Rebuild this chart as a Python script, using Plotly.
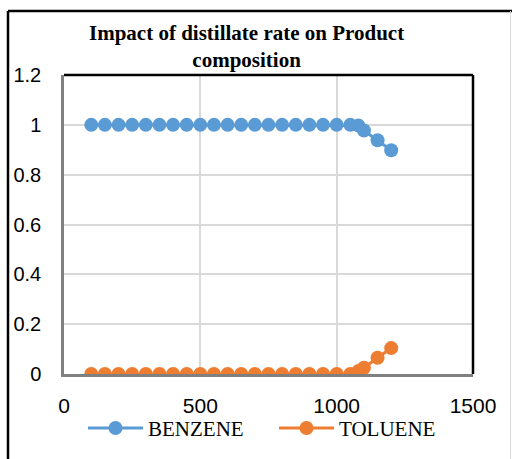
import plotly.graph_objects as go

distillate_rate = [100, 150, 200, 250, 300, 350, 400, 450, 500, 550, 600, 650, 700, 750,
                   800, 850, 900, 950, 1000, 1050, 1080, 1100, 1150, 1200]
benzene = [1.0] * 20 + [0.997, 0.977, 0.938, 0.898]
toluene = [0.0] * 20 + [0.012, 0.025, 0.065, 0.104]

x_ticks = [0, 500, 1000, 1500]
y_ticks = [0, 0.2, 0.4, 0.6, 0.8, 1.0, 1.2]
y_tick_labels = ["0", "0.2", "0.4", "0.6", "0.8", "1", "1.2"]

BLUE = "#5B9BD5"
ORANGE = "#ED7D31"

fig = go.Figure()
fig.add_trace(go.Scatter(x=distillate_rate, y=benzene, name="BENZENE", mode="lines+markers",
                         line=dict(color=BLUE, width=3), marker=dict(color=BLUE, size=14)))
fig.add_trace(go.Scatter(x=distillate_rate, y=toluene, name="TOLUENE", mode="lines+markers",
                         line=dict(color=ORANGE, width=3), marker=dict(color=ORANGE, size=14)))

L, R, T, B = 64, 39, 75, 84.5
W, H = 512, 459
pw, ph = W - L - R, H - T - B

def px(xp):
    return (xp - L) / pw

def py(yp):
    return (H - B - yp) / ph

shapes = [
    dict(type="line", xref="paper", yref="paper", x0=px(8), x1=px(512), y0=py(11), y1=py(11),
         line=dict(color="black", width=2.5), layer="below"),
    dict(type="line", xref="paper", yref="paper", x0=px(8), x1=px(8), y0=py(11), y1=py(470),
         line=dict(color="black", width=2.5), layer="below"),
    dict(type="line", xref="paper", yref="paper", x0=px(510.5), x1=px(510.5), y0=py(11), y1=py(470),
         line=dict(color="#D9D9D9", width=1), layer="below"),
    dict(type="line", xref="paper", yref="paper", x0=0, x1=1, y0=1, y1=1,
         line=dict(color="black", width=2.5)),
    dict(type="line", xref="paper", yref="paper", x0=1, x1=1, y0=0, y1=1,
         line=dict(color="black", width=2.5)),
]

fig.update_layout(
    width=W, height=H,
    margin=dict(l=L, r=R, t=T, b=B, autoexpand=False),
    paper_bgcolor="white", plot_bgcolor="white",
    annotations=[dict(text="<b>Impact of distillate rate on Product<br>composition</b>",
                      font=dict(family="Liberation Serif", size=21, color="black"),
                      xref="paper", yref="paper", x=px(246), y=py(46),
                      xanchor="center", yanchor="middle", showarrow=False, align="center")],
    xaxis=dict(range=[0, 1500], tickvals=x_ticks, ticktext=[str(v) for v in x_ticks],
               showgrid=True, gridcolor="#D9D9D9", gridwidth=1.5,
               showline=True, linecolor="#808080", linewidth=2.5,
               zeroline=False, ticks="outside", ticklen=11, tickcolor="rgba(0,0,0,0)",
               tickfont=dict(family="Liberation Sans", size=21, color="black")),
    yaxis=dict(range=[0, 1.2], tickvals=y_ticks, ticktext=y_tick_labels,
               showgrid=True, gridcolor="#D9D9D9", gridwidth=1.5,
               showline=True, linecolor="#808080", linewidth=2.5,
               zeroline=False, ticks="outside", ticklen=16, tickcolor="rgba(0,0,0,0)",
               tickfont=dict(family="Liberation Sans", size=20, color="black")),
    legend=dict(orientation="h", x=px(83), xanchor="left", y=py(429), yanchor="middle",
                font=dict(family="Liberation Serif", size=21, color="black"),
                itemwidth=55, entrywidth=121, entrywidthmode="pixels",
                bgcolor="rgba(0,0,0,0)"),
    shapes=shapes,
)

fig.write_html("out.html")
